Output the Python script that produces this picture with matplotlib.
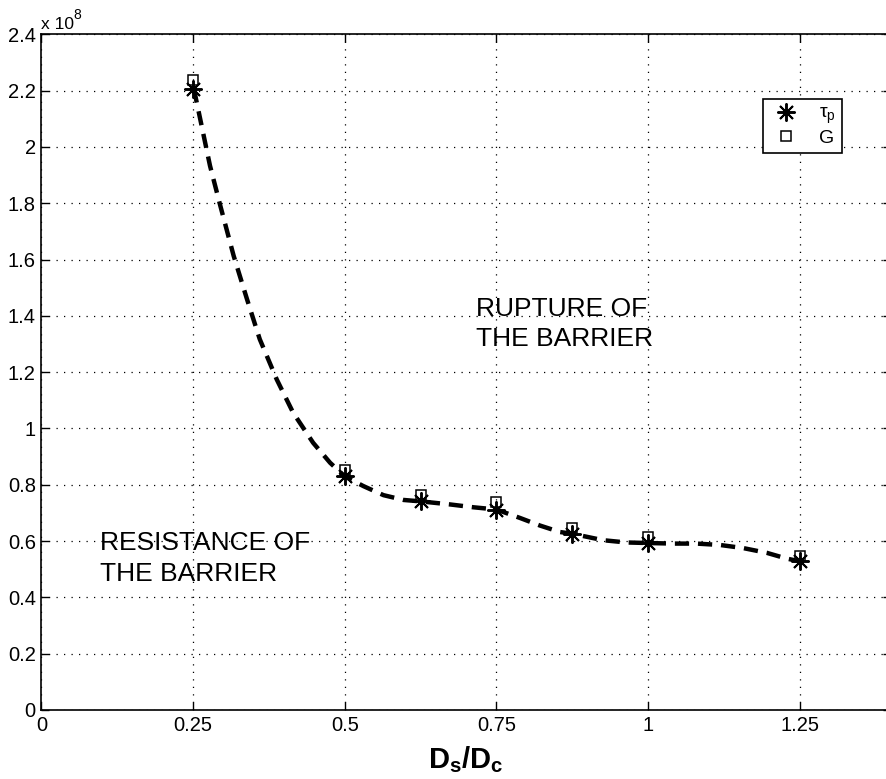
import matplotlib
matplotlib.use("Agg")
import matplotlib.pyplot as plt

# font setup (Helvetica-like)
plt.rcParams['font.family'] = ['Liberation Sans', 'DejaVu Sans']
plt.rcParams['mathtext.fontset'] = 'custom'
plt.rcParams['mathtext.rm'] = 'Liberation Sans'
plt.rcParams['mathtext.it'] = 'Liberation Sans:italic'
plt.rcParams['mathtext.bf'] = 'Liberation Sans:bold'

# measured points (values in units of 1e8)
ratio = [0.25, 0.5, 0.625, 0.75, 0.875, 1.0, 1.25]
tau_p = [2.206, 0.83, 0.741, 0.712, 0.626, 0.593, 0.528]
G = [2.238, 0.852, 0.762, 0.739, 0.647, 0.615, 0.546]

# dashed fitted curve
curve_x = [0.25, 0.253, 0.278, 0.295, 0.317, 0.339, 0.360, 0.388, 0.415, 0.448, 0.476, 0.5,
           0.531, 0.564, 0.597, 0.625, 0.674, 0.712, 0.75, 0.789, 0.822, 0.855, 0.875,
           0.926, 0.964, 1.0, 1.042, 1.080, 1.119, 1.157, 1.196, 1.228, 1.25]
curve_y = [2.206, 2.19, 1.933, 1.791, 1.613, 1.459, 1.317, 1.174, 1.056, 0.949, 0.878, 0.83,
           0.795, 0.763, 0.746, 0.741, 0.730, 0.720, 0.712, 0.682, 0.655, 0.632, 0.626,
           0.603, 0.595, 0.593, 0.591, 0.591, 0.586, 0.575, 0.558, 0.538, 0.528]

xticks = [0, 0.25, 0.5, 0.75, 1, 1.25]
xticklabels = ['0', '0.25', '0.5', '0.75', '1', '1.25']
yticks = [0, 0.2, 0.4, 0.6, 0.8, 1, 1.2, 1.4, 1.6, 1.8, 2, 2.2, 2.4]
yticklabels = ['0', '0.2', '0.4', '0.6', '0.8', '1', '1.2', '1.4', '1.6', '1.8', '2', '2.2', '2.4']

fig = plt.figure(figsize=(8.87, 7.79), dpi=100)
ax = fig.add_axes([0.0466, 0.0886, 0.9576, 0.8674])

star = (8, 2, 0)
ax.plot(curve_x, curve_y, color='black', lw=3.2, dashes=(3.2, 2), zorder=2)
ax.plot(ratio, tau_p, linestyle='none', marker=star, ms=13, mew=1.4, color='black',
        label=r'$\mathrm{\tau_p}$', zorder=3)
ax.plot(ratio, G, linestyle='none', marker='s', ms=6.5, mew=1.1, mfc='none', mec='black',
        label='G', zorder=4)

ax.set_xlim(0, 1.4)
ax.set_ylim(0, 2.4)
ax.set_xticks(xticks)
ax.set_xticklabels(xticklabels)
ax.set_yticks(yticks)
ax.set_yticklabels(yticklabels)
ax.tick_params(direction='in', top=True, right=True, length=6, width=1,
               labelsize=14.5, pad=4)
ax.grid(True, linestyle=(0, (1, 5)), color='black', linewidth=0.9)
for s in ax.spines.values():
    s.set_linewidth(1.2)

# exponent label above the y axis
ax.text(0.0, 2.42, 'x 10', fontsize=12.5, ha='left', va='baseline')
ax.text(0.053, 2.455, '8', fontsize=10, ha='left', va='baseline')

# region annotations, one line at a time
ax.text(0.096, 0.569, 'RESISTANCE OF', fontsize=19, ha='left', va='baseline')
ax.text(0.096, 0.457, 'THE BARRIER', fontsize=19, ha='left', va='baseline')
ax.text(0.716, 1.400, 'RUPTURE OF', fontsize=19, ha='left', va='baseline')
ax.text(0.716, 1.293, 'THE BARRIER', fontsize=19, ha='left', va='baseline')

ax.set_xlabel(r'$\mathbf{D_s/D_c}$', fontsize=21, labelpad=7)

leg = ax.legend(loc='upper left', bbox_to_anchor=(0.8496, 0.9043), borderaxespad=0,
                fancybox=False, edgecolor='black', framealpha=1, fontsize=14,
                handlelength=1.8, handletextpad=0.8, borderpad=0.3, labelspacing=0.15)
leg.get_frame().set_linewidth(1.2)

fig.savefig('out.png', dpi=100)
